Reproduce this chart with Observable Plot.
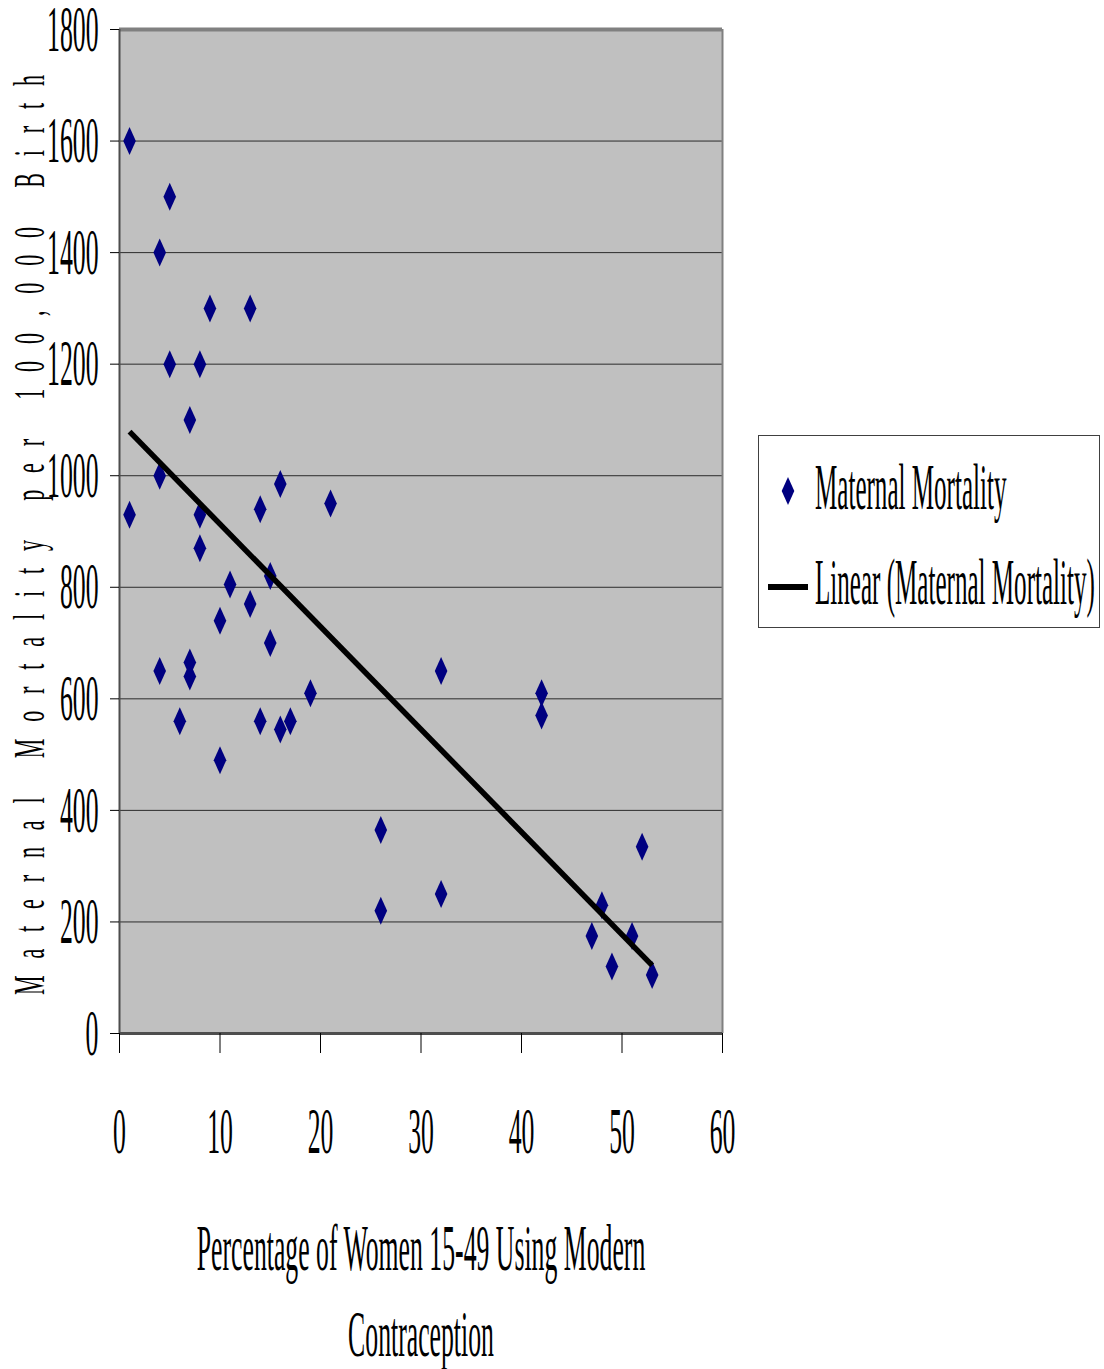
<!DOCTYPE html>
<html>
<head>
<meta charset="utf-8">
<script src="https://cdn.jsdelivr.net/npm/d3@7"></script>
<script src="https://cdn.jsdelivr.net/npm/@observablehq/plot@0.6"></script>
<style>
  body { margin: 0; background: #fff; }
  #chart svg { display: block; }
</style>
</head>
<body>
<div id="chart"></div>
<script>
// ---- data ----
const contraception = [1, 5, 4, 9, 13, 5, 8, 7, 4, 1, 8, 8, 14, 16, 21, 15, 11, 13, 10, 15, 4, 7, 7, 19, 6, 14, 16, 17, 10, 32, 42, 42, 26, 26, 32, 48, 47, 51, 49, 52, 53];
const mortality = [1600, 1500, 1400, 1300, 1300, 1200, 1200, 1100, 1000, 930, 930, 870, 940, 985, 950, 820, 805, 770, 740, 700, 650, 665, 640, 610, 560, 560, 545, 560, 490, 650, 610, 570, 365, 220, 250, 230, 175, 175, 120, 335, 105];
const trendX = [1, 53];
const trendY = [1079, 122];
const xTicks = [0, 10, 20, 30, 40, 50, 60];
const yTicks = [0, 200, 400, 600, 800, 1000, 1200, 1400, 1600, 1800];
const xTitle = ["Percentage of Women 15-49 Using Modern", "Contraception"];
const yTitle = "Maternal Mortality per 100,000 Birth";
const legendLabels = ["Maternal Mortality", "Linear (Maternal Mortality)"];

const points = contraception.map((x, i) => ({x, y: mortality[i]}));
const trend = trendX.map((x, i) => ({x, y: trendY[i]}));

const tallDiamond = {
  draw(ctx) {
    ctx.moveTo(0, -14);
    ctx.lineTo(6.3, 0);
    ctx.lineTo(0, 14);
    ctx.lineTo(-6.3, 0);
    ctx.closePath();
  }
};

const FONT = '"Liberation Serif", "Times New Roman", serif';

const chart = Plot.plot({
  width: 1104,
  height: 1369,
  marginLeft: 119,
  marginRight: 382,
  marginTop: 29,
  marginBottom: 336,
  style: {fontFamily: FONT, fontSize: "66px", color: "#000", background: "#fff"},
  x: {domain: [0, 60], ticks: xTicks},
  y: {domain: [0, 1800], ticks: yTicks},
  marks: [
    Plot.frame({fill: "#c0c0c0", stroke: null}),
    Plot.ruleY(yTicks.filter(d => d > 0 && d < 1800), {stroke: "#2b2b2b", strokeWidth: 1}),
    Plot.ruleY([1800], {stroke: "#808080", strokeWidth: 4}),
    Plot.ruleX([60], {stroke: "#808080", strokeWidth: 2}),
    Plot.ruleX([0], {stroke: "#4d4d4d", strokeWidth: 2}),
    Plot.ruleY([0], {stroke: "#4d4d4d", strokeWidth: 3}),
    Plot.axisY({ticks: yTicks, tickSize: 9, tickPadding: 12, tickFormat: d => String(d), label: null}),
    Plot.axisX({ticks: xTicks, tickSize: 20, tickPadding: 53, tickFormat: d => String(d), label: null}),
    Plot.dot(points, {x: "x", y: "y", symbol: tallDiamond, fill: "#000080", stroke: null}),
    Plot.line(trend, {x: "x", y: "y", stroke: "#000", strokeWidth: 5.5, strokeLinecap: "butt"})
  ]
});

document.getElementById("chart").append(chart);
const svg = d3.select(chart);

// x-axis title (two lines)
const gT = svg.append("g").attr("font-size", 66).attr("font-family", FONT).attr("text-anchor", "middle").attr("fill", "#000");
gT.append("text").attr("x", 421).attr("y", 1270).text(xTitle[0]);
gT.append("text").attr("x", 421).attr("y", 1356).text(xTitle[1]);

// legend
const gL = svg.append("g").attr("font-size", 66).attr("font-family", FONT).attr("text-anchor", "start").attr("fill", "#000");
gL.append("rect").attr("x", 758.5).attr("y", 435.5).attr("width", 341).attr("height", 192)
  .attr("fill", "#fff").attr("stroke", "#404040").attr("stroke-width", 1);
gL.append("path").attr("transform", "translate(788,491)").attr("fill", "#000080")
  .attr("d", d3.symbol(tallDiamond)());
gL.append("line").attr("x1", 768).attr("x2", 808).attr("y1", 587).attr("y2", 587)
  .attr("stroke", "#000").attr("stroke-width", 6);
gL.append("text").attr("class", "leg").attr("x", 815).attr("y", 509).text(legendLabels[0]);
gL.append("text").attr("class", "leg").attr("x", 815).attr("y", 604).text(legendLabels[1]);

// condense all text horizontally like the reference
svg.selectAll("text").each(function () {
  const len = this.getComputedTextLength();
  if (len > 0) {
    const k = this.getAttribute("class") === "leg" ? 0.38 : 0.39;
    this.setAttribute("textLength", (len * k).toFixed(1));
    this.setAttribute("lengthAdjust", "spacingAndGlyphs");
  }
});

// y-axis title: rotated, glyphs condensed, letters spread out
svg.append("text")
  .attr("transform", "translate(44,535) rotate(-90) scale(0.5,1)")
  .attr("text-anchor", "middle")
  .attr("font-family", FONT)
  .attr("font-size", 44)
  .attr("fill", "#000")
  .attr("textLength", 1840)
  .attr("lengthAdjust", "spacing")
  .text(yTitle);
</script>
</body>
</html>
